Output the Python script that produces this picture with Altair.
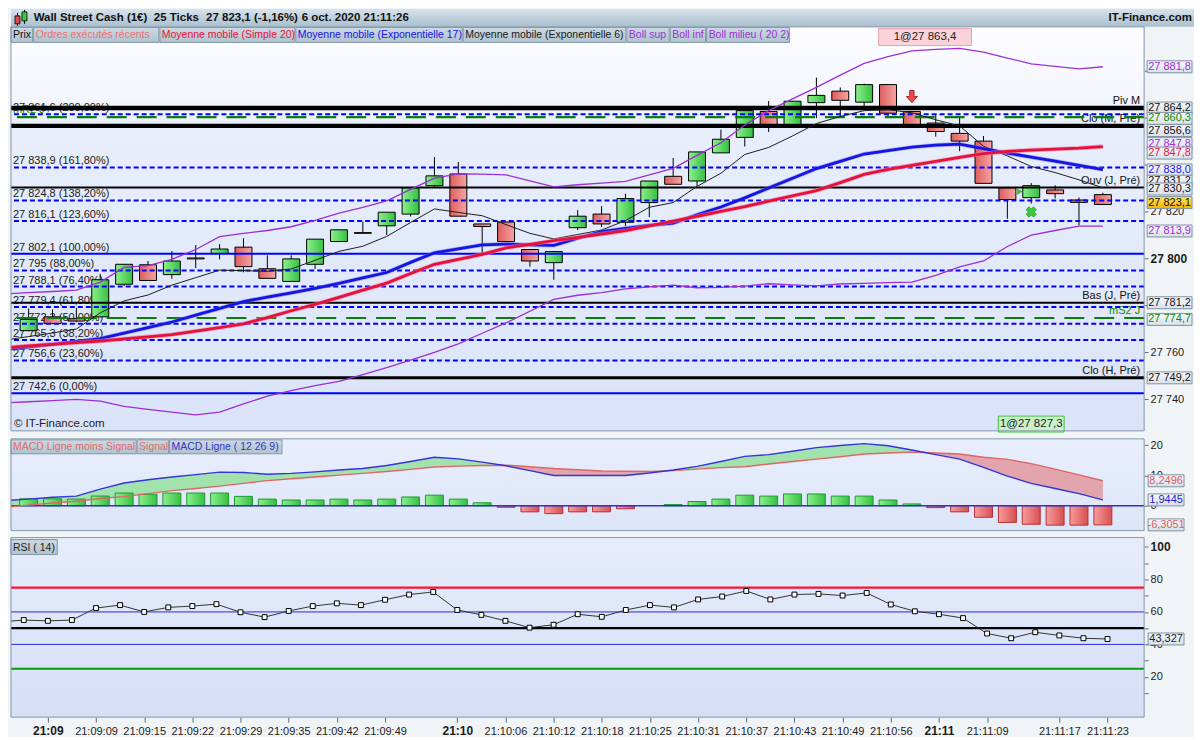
import altair as alt
import pandas as pd

FONT = "Liberation Sans"
BG = "#f1f4f7"

# ===================== DATA =====================
candle_index = list(range(46))
opens = [27769.3, 27775.2, 27774.4, 27775.2, 27789.1, 27797.4, 27793.2, 27800.3, 27802.2, 27804.9,
         27795.7, 27790.3, 27797.6, 27807.3, 27811.1, 27814.0, 27819.0, 27831.1, 27836.1, 27814.8,
         27815.6, 27803.9, 27798.3, 27813.2, 27819.0, 27815.5, 27823.9, 27835.1, 27833.1, 27845.1,
         27851.7, 27862.7, 27856.8, 27866.5, 27871.4, 27866.7, 27874.2, 27862.7, 27857.8, 27853.4,
         27850.1, 27830.2, 27826.0, 27829.3, 27825.0, 27827.3]
highs = [27778.8, 27778.4, 27779.0, 27793.5, 27797.6, 27799.0, 27803.2, 27805.8, 27806.2, 27808.7,
         27801.4, 27801.4, 27808.3, 27812.3, 27815.8, 27819.8, 27830.2, 27843.3, 27841.2, 27814.8,
         27815.6, 27803.9, 27803.0, 27820.7, 27822.4, 27827.7, 27833.1, 27842.9, 27845.5, 27855.0,
         27864.5, 27867.2, 27867.1, 27877.2, 27873.0, 27874.6, 27874.2, 27862.7, 27861.3, 27860.6,
         27852.3, 27830.2, 27832.2, 27831.3, 27826.1, 27828.1]
lows = [27769.0, 27772.3, 27773.0, 27775.2, 27788.3, 27790.7, 27791.4, 27796.0, 27799.7, 27794.2,
        27791.6, 27790.3, 27795.6, 27807.3, 27810.8, 27810.1, 27818.0, 27830.5, 27818.1, 27801.1,
        27807.3, 27796.6, 27791.0, 27812.2, 27813.5, 27813.9, 27817.7, 27831.7, 27831.0, 27845.1,
        27847.8, 27854.0, 27856.8, 27859.9, 27860.5, 27863.8, 27860.5, 27857.1, 27852.0, 27845.8,
        27832.1, 27817.0, 27823.5, 27825.7, 27814.2, 27822.9]
closes = [27774.1, 27772.3, 27773.4, 27791.0, 27797.6, 27790.7, 27799.0, 27799.9, 27804.1, 27796.6,
          27791.6, 27799.9, 27808.3, 27812.3, 27810.8, 27819.8, 27830.2, 27835.3, 27818.1, 27813.7,
          27807.3, 27799.0, 27803.0, 27818.1, 27814.8, 27825.6, 27833.1, 27831.7, 27845.5, 27850.9,
          27863.1, 27856.8, 27867.1, 27869.6, 27867.5, 27874.2, 27862.0, 27857.1, 27854.2, 27850.1,
          27832.1, 27825.2, 27831.1, 27827.7, 27824.0, 27823.1]

# indicator lines: first value = left edge of the plot (index -1, clipped)
line_index = list(range(-1, 46))
sma20 = [27762.0, 27762.8, 27763.5, 27764.2, 27764.9, 27765.8, 27766.7, 27767.6, 27769.1, 27770.6,
         27772.2, 27774.9, 27777.8, 27780.5, 27783.5, 27786.6, 27789.6, 27793.7, 27797.6, 27799.7,
         27801.8, 27804.6, 27806.1, 27807.7, 27809.1, 27810.5, 27811.9, 27814.0, 27816.0, 27818.0,
         27820.2, 27822.2, 27824.5, 27826.8, 27829.0, 27832.4, 27835.9, 27838.1, 27839.8, 27841.5,
         27843.2, 27844.8, 27845.7, 27846.3, 27846.7, 27847.1, 27847.8]
ema17 = [27761.3, 27762.4, 27763.5, 27764.7, 27765.9, 27768.3, 27770.6, 27773.0, 27775.9, 27778.8,
         27781.7, 27783.6, 27785.4, 27787.3, 27789.5, 27791.8, 27794.1, 27798.4, 27802.5, 27804.2,
         27805.9, 27806.2, 27805.9, 27805.7, 27808.7, 27811.5, 27812.9, 27814.2, 27815.1, 27818.7,
         27822.0, 27825.9, 27830.1, 27834.3, 27838.4, 27841.5, 27844.6, 27846.1, 27847.5, 27848.4,
         27848.8, 27846.9, 27845.0, 27843.3, 27841.6, 27839.8, 27838.0]
ema6 = [27765.3, 27766.8, 27768.3, 27770.0, 27776.9, 27782.0, 27784.5, 27788.7, 27791.9, 27795.1,
        27794.9, 27794.6, 27795.6, 27799.3, 27803.1, 27805.3, 27809.5, 27815.4, 27821.2, 27819.7,
        27818.3, 27814.5, 27810.8, 27808.4, 27810.3, 27812.2, 27816.2, 27821.9, 27823.9, 27830.8,
        27836.4, 27844.4, 27847.4, 27852.3, 27857.6, 27860.6, 27863.1, 27863.5, 27862.2, 27859.2,
        27856.6, 27847.9, 27843.8, 27839.3, 27836.7, 27833.6, 27830.2]
boll_sup = [27785.0, 27785.5, 27786.0, 27786.6, 27790.0, 27796.3, 27797.0, 27799.7, 27803.9, 27809.4,
            27810.8, 27812.0, 27813.6, 27816.3, 27819.4, 27821.9, 27824.6, 27829.5, 27834.3, 27836.1,
            27836.0, 27835.7, 27833.2, 27830.6, 27831.5, 27832.2, 27832.9, 27835.7, 27838.5, 27844.0,
            27849.4, 27857.0, 27863.1, 27868.1, 27873.0, 27878.2, 27883.2, 27886.1, 27888.6, 27889.2,
            27889.6, 27888.0, 27885.5, 27883.0, 27882.0, 27880.9, 27881.8]
boll_inf = [27738.5, 27739.0, 27739.5, 27740.0, 27739.3, 27737.0, 27735.8, 27734.6, 27733.4, 27734.6,
            27738.1, 27741.4, 27743.7, 27745.9, 27747.7, 27750.6, 27753.6, 27756.7, 27760.1, 27763.7,
            27768.2, 27772.6, 27777.6, 27782.6, 27784.4, 27785.5, 27787.1, 27788.0, 27788.7, 27787.6,
            27787.8, 27788.3, 27789.3, 27788.8, 27788.4, 27789.2, 27789.5, 27789.8, 27790.0, 27792.9,
            27796.5, 27799.0, 27805.2, 27810.0, 27812.0, 27813.9, 27813.9]

macd_line = [1.7, 2.2, 2.8, 3.2, 5.5, 7.5, 8.6, 9.5, 10.3, 11.1, 11.0, 10.4, 10.7, 11.2, 11.8, 12.3,
             13.3, 14.6, 16.0, 15.5, 14.4, 13.2, 11.6, 10.0, 10.0, 10.0, 10.0, 10.8, 11.8, 13.0, 14.6,
             16.3, 16.9, 18.0, 19.2, 19.9, 20.5, 19.8, 18.4, 16.9, 15.4, 12.7, 9.8, 7.4, 5.7, 4.0, 1.9445]
macd_signal = [-0.5, 0.2, 0.9, 1.5, 2.4, 3.0, 4.0, 5.0, 5.7, 6.5, 7.4, 8.3, 8.9, 9.5, 10.1, 10.7,
               11.3, 12.0, 12.8, 13.1, 13.3, 13.4, 12.9, 12.3, 11.9, 11.5, 11.4, 11.3, 11.6, 12.1, 12.6,
               12.9, 13.8, 14.6, 15.4, 16.2, 17.1, 17.4, 17.7, 17.4, 17.1, 16.0, 15.3, 13.9, 12.1, 10.2, 8.2496]
macd_hist = [2.3, 2.3, 2.2, 3.2, 4.2, 3.8, 4.2, 4.2, 4.2, 3.1, 2.2, 1.9, 1.9, 2.2, 1.9, 2.2, 2.9, 3.5,
             2.2, 1.0, -0.5, -2.0, -2.6, -2.0, -2.0, -1.0, 0.0, 0.4, 1.4, 2.2, 3.5, 3.2, 3.9, 3.9, 3.2,
             3.2, 1.9, 0.6, -0.6, -2.0, -3.8, -5.5, -6.1, -6.4, -6.4, -6.3051]
rsi14 = [53.8, 55.0, 54.5, 55.0, 62.4, 64.2, 60.0, 62.8, 63.6, 64.8, 59.8, 56.8, 60.6, 63.6, 65.3,
         64.2, 67.5, 70.7, 72.3, 61.2, 58.2, 54.5, 50.3, 52.1, 58.6, 57.0, 61.2, 64.2, 62.8, 67.7,
         69.5, 72.9, 67.7, 70.7, 71.1, 70.1, 71.7, 64.6, 60.4, 58.6, 56.2, 46.7, 43.8, 47.5, 45.5,
         43.8, 43.327]

fib_prices = [27861.6, 27838.9, 27824.8, 27816.1, 27802.1, 27795.0, 27788.1, 27779.4, 27772.3,
              27765.3, 27756.6, 27742.6]
fib_labels = ["27 861,6 (200,00%)", "27 838,9 (161,80%)", "27 824,8 (138,20%)", "27 816,1 (123,60%)",
              "27 802,1 (100,00%)", "27 795 (88,00%)", "27 788,1 (76,40%)", "27 779,4 (61,80%)",
              "27 772,3 (50,00%)", "27 765,3 (38,20%)", "27 756,6 (23,60%)", "27 742,6 (0,00%)"]
fib_solid = [False, False, False, False, True, False, False, False, False, False, False, True]

level_prices = [27864.2, 27856.6, 27830.3, 27781.2, 27749.2]
level_names = ["Piv M", "Clo (M, Pré)", "Ouv (J, Pré)", "Bas (J, Pré)", "Clo (H, Pré)"]
pivot_prices = [27860.3, 27774.7]
pivot_names = ["mR2 J", "mS2 J"]

price_ticks = [27740, 27760, 27780, 27800, 27820, 27840, 27860, 27880]
price_tick_shown = [27740, 27760, 27800, 27820]
price_box_text = ["27 881,8", "27 864,2", "27 860,3", "27 856,6", "27 847,8", "27 847,8", "27 838,0",
                  "27 831,2", "27 830,3", "27 823,1", "27 813,9", "27 781,2", "27 774,7", "27 749,2"]
price_box_at = [27881.8, 27864.2, 27859.8, 27854.6, 27849.0, 27845.0, 27837.8,
                27833.0, 27829.7, 27823.9, 27811.8, 27781.2, 27774.1, 27749.2]
macd_box_text = ["8,2496", "1,9445", "-6,3051"]
macd_box_at = [8.2496, 1.9445, -6.3051]
rsi_box_text = ["43,327"]
rsi_box_at = [43.327]
rsi_levels = [75, 60, 50, 40, 25]

time_tick_index = [1, 3, 5, 7, 9, 11, 13, 15, 18, 20, 22, 24, 26, 28, 30, 32, 34, 36, 38, 40, 43, 45]
time_tick_labels = ["21:09", "21:09:09", "21:09:15", "21:09:22", "21:09:29", "21:09:35", "21:09:42",
                    "21:09:49", "21:10", "21:10:06", "21:10:12", "21:10:18", "21:10:25", "21:10:31",
                    "21:10:37", "21:10:43", "21:10:49", "21:10:56", "21:11", "21:11:09", "21:11:17",
                    "21:11:23"]

sell_arrow = {"i": [37], "p": [27869.1]}
buy_triangle = {"i": [41.52], "p": [27828.6]}
buy_cross = {"i": [42], "p": [27819.9]}
trade_labels = ["1@27 863,4", "1@27 827,3"]
trade_index = [37.55, 42.0]

header_items = ["Wall Street Cash (1€)", "25 Ticks", "27 823,1 (-1,16%)", "6 oct. 2020 21:11:26"]
legend_price = ["Prix", "Ordres exécutés récents", "Moyenne mobile (Simple 20)",
                "Moyenne mobile (Exponentielle 17)", "Moyenne mobile (Exponentielle 6)",
                "Boll sup", "Boll inf", "Boll milieu ( 20 2)"]
legend_macd = ["MACD Ligne moins Signal", "Signal", "MACD Ligne ( 12 26 9)"]
legend_rsi = ["RSI ( 14)"]

# ===================== STYLE / LAYOUT =====================
W = 1136
HEAD = 18
HP = 423
HM = 92
HR = 180
SX = W / 1150.0
SY = (HP - HEAD) / 415.0


def rx(v):
    return round(v * SX, 1)


def ry(v):
    return round(HEAD + (v - 18) * SY, 1)


PURPLE = "#9c2fd6"
level_width = {"Piv M": 4.5, "Clo (M, Pré)": 4.5, "Ouv (J, Pré)": 2, "Bas (J, Pré)": 2, "Clo (H, Pré)": 3}
pivot_text_x = {"mR2 J": "left", "mS2 J": "right"}
header_x = [23, 145, 198, 295]
legend_price_x = [(0, 22), (23, 150), (151, 288), (289, 458), (459, 624), (625, 668), (669, 705), (706, 790)]
legend_price_col = ["#111111", "#e87474", "#e8123e", "#1616e6", "#1a1a1a", PURPLE, PURPLE, PURPLE]
legend_macd_x = [(0, 127), (128, 160), (161, 275)]
legend_macd_col = ["#e86a6a", "#e86a6a", "#3434cc"]
price_box_col = [PURPLE, "#111", "#0a8a0a", "#111", PURPLE, "#e8123e", "#1a1ae6",
                 "#111", "#111", "#111", PURPLE, "#111", "#0a8a0a", "#111"]
price_box_gold = [False] * 9 + [True] + [False] * 4
macd_box_col = ["#e05a5a", "#2424d8", "#e05a5a"]
rsi_level_col = ["#ff1030", "#2a2ae0", "#000000", "#2a2ae0", "#0a9a0a"]
rsi_level_w = [2.2, 1, 2.2, 1, 2.2]

ONE = pd.DataFrame({"k": [0]})


def vgrad(stops):
    return {"gradient": "linear", "x1": 0, "y1": 0, "x2": 0, "y2": 1,
            "stops": [{"offset": o, "color": c} for o, c in stops]}


def hgrad(c0, c1):
    return {"gradient": "linear", "x1": 0, "y1": 0, "x2": 1, "y2": 0,
            "stops": [{"offset": 0, "color": c0}, {"offset": 1, "color": c1}]}


BOX_FILL = vgrad([(0, "#f6f8fb"), (1, "#d8e0e9")])
GOLD_FILL = vgrad([(0, "#ffe466"), (1, "#f2b400")])
LEG_FILL = vgrad([(0, "#cbd9e2"), (1, "#b0c3cf")])
GREEN_BODY = hgrad("#8cf08c", "#36c042")
RED_BODY = hgrad("#de5e5e", "#f6a4a4")
RED_BAR = hgrad("#f89c9c", "#d65050")


def vrect(x0, x1, y0, y1, **mk):
    return alt.Chart(ONE).mark_rect(**mk).encode(
        x=alt.value(x0), x2=alt.value(x1), y=alt.value(y0), y2=alt.value(y1))


def vtext(x, y, t, **mk):
    return alt.Chart(pd.DataFrame({"t": [t]})).mark_text(font=FONT, baseline="middle", **mk).encode(
        x=alt.value(x), y=alt.value(y), text="t:N")


def cond(test, a, b):
    return {"condition": {"test": test, "value": a}, "value": b}


def box_path(w, h):
    r = h / w
    return f"M-1,-{r:.4f}L1,-{r:.4f}L1,{r:.4f}L-1,{r:.4f}Z"


xsc = alt.Scale(domain=[-0.53, 46.52], nice=False, zero=False)
PBOT, PTOP = 27726.6, 27898.8
ppx = (HP - HEAD) / (PTOP - PBOT)
psc = alt.Scale(domain=[PBOT, PTOP + HEAD / ppx], nice=False, zero=False)
msc = alt.Scale(domain=[-8.2, 22.1], nice=False, zero=False)
rsc = alt.Scale(domain=[-4.8, 105.8], nice=False, zero=False)

AX = dict(title=None, grid=False, domain=False, tickColor="#5b6b7b", labelFont=FONT,
          labelColor="#1b1b1b", labelPadding=2)
shown_test = " || ".join(f"datum.value == {v}" for v in price_tick_shown)
p_axis = alt.Axis(orient="right", values=price_ticks, tickSize=4,
                  labelExpr=f"({shown_test}) ? replace(format(datum.value, ','), ',', ' ') : ''",
                  labelFontSize=cond("datum.value == 27800", 12, 11),
                  labelFontWeight=cond("datum.value == 27800", "bold", "normal"), **AX)
m_axis = alt.Axis(orient="right", values=[0, 10, 20], tickSize=4, labelFontSize=11, **AX)
r_axis = alt.Axis(orient="right", values=[10, 20, 30, 40, 50, 60, 70, 80, 90, 100], tickSize=4,
                  labelExpr="datum.value % 20 == 0 ? datum.label : ''",
                  labelFontSize=cond("datum.value == 100", 12, 11),
                  labelFontWeight=cond("datum.value == 100", "bold", "normal"), **AX)

lab_expr = "''"
for ti, tl in reversed(list(zip(time_tick_index, time_tick_labels))):
    lab_expr = f"datum.value == {ti} ? '{tl}' : ({lab_expr})"
bold_test = " || ".join(f"datum.value == {ti}" for ti, tl in zip(time_tick_index, time_tick_labels)
                        if len(tl) == 5)
x_axis = alt.Axis(values=time_tick_index, labelExpr=lab_expr, title=None, grid=False, domain=False,
                  tickSize=5, tickColor="#5b6b7b", labelFont=FONT, labelColor="#1b1b1b",
                  labelFontSize=cond(bold_test, 12, 11), labelFontWeight=cond(bold_test, "bold", "normal"),
                  labelPadding=3, labelOverlap=False, labelFlush=False)


def PX(f):
    return alt.X(f, type="quantitative", scale=xsc, axis=None)


def RX(f):
    return alt.X(f, type="quantitative", scale=xsc, axis=x_axis)


def PY(f):
    return alt.Y(f, type="quantitative", scale=psc, axis=p_axis)


def MY(f):
    return alt.Y(f, type="quantitative", scale=msc, axis=m_axis)


def RY(f):
    return alt.Y(f, type="quantitative", scale=rsc, axis=r_axis)


def value_boxes(texts, ats, cols, golds, yfn, width, x_left):
    out = []
    path = box_path(width, 12)
    cx = x_left + width / 2
    for t, a, c, g in zip(texts, ats, cols, golds):
        d = pd.DataFrame({"v": [a], "t": [t]})
        out.append(alt.Chart(d).mark_point(shape=path, size=width * width, filled=True,
                                           fill=GOLD_FILL if g else BOX_FILL, stroke="#7d91a3",
                                           strokeWidth=1, opacity=1).encode(x=alt.value(cx), y=yfn("v")))
        out.append(alt.Chart(d).mark_text(font=FONT, fontSize=11, color=c, align="center",
                                          baseline="middle").encode(x=alt.value(cx), y=yfn("v"), text="t:N"))
    return out


def legend_boxes(items, xs, cols, y0, y1):
    out = []
    for t, (a, b), c in zip(items, xs, cols):
        out.append(vrect(rx(a), rx(b), y0, y1, fill=LEG_FILL, stroke="#8597a6", strokeWidth=1))
        out.append(vtext(rx(a) + 2, (y0 + y1) / 2 + 0.5, t, fontSize=10.5, color=c, align="left"))
    return out


# ===================== PRICE PANEL =====================
cd = pd.DataFrame({"i": candle_index, "o": opens, "h": highs, "l": lows, "c": closes})
ld = pd.DataFrame({"i": line_index, "sma": sma20, "e17": ema17, "e6": ema6, "bs": boll_sup, "bi": boll_inf})
fd = pd.DataFrame({"p": fib_prices, "lab": fib_labels, "solid": fib_solid})
lv = pd.DataFrame({"p": level_prices, "name": level_names,
                   "w": [level_width[n] for n in level_names]})
pv = pd.DataFrame({"p": pivot_prices, "name": pivot_names,
                   "side": [pivot_text_x[n] for n in pivot_names]})

P = []
P.append(vrect(0, W, HEAD, HP, fill=vgrad([(0, "#fdfdff"), (0.17, "#f4f6fd"), (0.25, "#e8eefb"),
                                             (1, "#dae3f8")])))
# level labels (drawn under candles and lines, as in the original)
P.append(alt.Chart(fd).mark_text(font=FONT, fontSize=11, color="#1a1a1a", align="left",
                                 baseline="bottom", dy=-1).encode(x=alt.value(2), y=PY("p"), text="lab:N"))
P.append(alt.Chart(pv).transform_filter("datum.side == 'left'").mark_text(
    font=FONT, fontSize=11, color="#0b8a0b", align="left", baseline="bottom", dy=-2).encode(
    x=alt.value(2), y=PY("p"), text="name:N"))
P.append(alt.Chart(pv).transform_filter("datum.side == 'right'").mark_text(
    font=FONT, fontSize=11, color="#0b8a0b", align="right", baseline="bottom", dy=-2).encode(
    x=alt.value(W - 4), y=PY("p"), text="name:N"))
P.append(alt.Chart(lv).mark_text(font=FONT, fontSize=11, color="#111", align="right",
                                 baseline="bottom", dy=-2).encode(x=alt.value(W - 4), y=PY("p"), text="name:N"))
# candles
P.append(alt.Chart(cd).mark_rule(color="#000", strokeWidth=1).encode(x=PX("i"), y=PY("l"), y2="h"))
P.append(alt.Chart(cd).transform_filter("datum.c >= datum.o").mark_bar(
    size=17, fill=GREEN_BODY, stroke="#000", strokeWidth=1, opacity=1).encode(x=PX("i"), y=PY("o"), y2="c"))
P.append(alt.Chart(cd).transform_filter("datum.c < datum.o").mark_bar(
    size=17, fill=RED_BODY, stroke="#000", strokeWidth=1, opacity=1).encode(x=PX("i"), y=PY("o"), y2="c"))
# horizontal levels
P.append(alt.Chart(fd).transform_filter("!datum.solid").mark_rule(
    color="#0000ff", strokeWidth=2, strokeDash=[5, 3]).encode(y=PY("p")))
P.append(alt.Chart(fd).transform_filter("datum.solid").mark_rule(
    color="#0000ff", strokeWidth=2).encode(y=PY("p")))
P.append(alt.Chart(pv).mark_rule(color="#0b7d0b", strokeWidth=2.2, strokeDash=[20, 10]).encode(y=PY("p")))
P.append(alt.Chart(lv).mark_rule(color="#000").encode(
    y=PY("p"), strokeWidth=alt.StrokeWidth("w:Q", scale=None)))
# indicator lines
P.append(alt.Chart(ld).mark_line(color=PURPLE, strokeWidth=1.3, clip=True).encode(x=PX("i"), y=PY("bs")))
P.append(alt.Chart(ld).mark_line(color=PURPLE, strokeWidth=1.3, clip=True).encode(x=PX("i"), y=PY("bi")))
P.append(alt.Chart(ld).mark_line(color="#1e1e1e", strokeWidth=1, clip=True).encode(x=PX("i"), y=PY("e6")))
P.append(alt.Chart(ld).mark_line(color="#7070f0", strokeWidth=4.2, opacity=0.5, clip=True).encode(
    x=PX("i"), y=PY("e17")))
P.append(alt.Chart(ld).mark_line(color="#1414e6", strokeWidth=2.8, clip=True).encode(x=PX("i"), y=PY("e17")))
P.append(alt.Chart(ld).mark_line(color="#f07aa0", strokeWidth=4.4, opacity=0.6, clip=True).encode(
    x=PX("i"), y=PY("sma")))
P.append(alt.Chart(ld).mark_line(color="#e8103a", strokeWidth=2.8, clip=True).encode(x=PX("i"), y=PY("sma")))
# trade markers
P.append(alt.Chart(pd.DataFrame(sell_arrow)).mark_point(
    shape="M-0.35,-1L0.35,-1L0.35,0L0.9,0L0,1L-0.9,0L-0.35,0Z", size=150, filled=True,
    fill="#ea4b4b", stroke="#b22222", strokeWidth=1, opacity=1).encode(x=PX("i"), y=PY("p")))
P.append(alt.Chart(pd.DataFrame(buy_triangle)).mark_point(
    shape="triangle-right", size=45, filled=True, fill="#33c433", opacity=1).encode(x=PX("i"), y=PY("p")))
P.append(alt.Chart(pd.DataFrame(buy_cross)).mark_point(
    shape="cross", angle=45, size=110, filled=True, fill="#3cc83c", stroke="#1a8a1a", strokeWidth=0.6,
    opacity=1).encode(x=PX("i"), y=PY("p")))
# trade boxes
td0 = pd.DataFrame({"i": [trade_index[0]], "t": [trade_labels[0]]})
td1 = pd.DataFrame({"i": [trade_index[1]], "t": [trade_labels[1]]})
P.append(alt.Chart(td0).mark_point(shape=box_path(93, 17), size=93 * 93, filled=True, fill="#f9d3d9",
                                   stroke="#e8a3ad", strokeWidth=1, opacity=1).encode(
    x=PX("i"), y=alt.value(ry(28.5))))
P.append(alt.Chart(td0).mark_text(font=FONT, fontSize=11.5, color="#222").encode(
    x=PX("i"), y=alt.value(ry(28.5)), text="t:N"))
P.append(alt.Chart(td1).mark_point(shape=box_path(66, 16), size=66 * 66, filled=True, fill="#c9f1c9",
                                   stroke="#45c045", strokeWidth=1, opacity=1).encode(
    x=PX("i"), y=alt.value(ry(426))))
P.append(alt.Chart(td1).mark_text(font=FONT, fontSize=11.5, color="#222").encode(
    x=PX("i"), y=alt.value(ry(426)), text="t:N"))
P.append(vtext(3, ry(426), "© IT-Finance.com", fontSize=11.5, color="#222", align="left"))
# legend row
P += legend_boxes(legend_price, legend_price_x, legend_price_col, ry(18.5), ry(34))
# header
P.append(vrect(0, W + 50, 0, HEAD, fill=vgrad([(0, "#d6e3ec"), (1, "#a9bfcd")])))
P.append(alt.Chart(ONE).mark_rule(color="#000", strokeWidth=1).encode(
    x=alt.value(6.5), y=alt.value(4), y2=alt.value(17)))
P.append(vrect(4, 9, 7, 15, fill="#e04a4a", stroke="#000", strokeWidth=0.8))
P.append(alt.Chart(ONE).mark_rule(color="#000", strokeWidth=1).encode(
    x=alt.value(13.5), y=alt.value(1), y2=alt.value(15)))
P.append(vrect(11, 16, 3, 12, fill="#3cc83c", stroke="#000", strokeWidth=0.8))
for hx, ht in zip(header_x, header_items):
    P.append(vtext(rx(hx), 9.5, ht, fontSize=11.5, fontWeight="bold", color="#111", align="left"))
P.append(vtext(W + 48, 9.5, "IT-Finance.com", fontSize=11.5, fontWeight="bold", color="#111", align="right"))
# border + price boxes
P.append(vrect(0, W, HEAD, HP, fillOpacity=0, stroke="#8496a8", strokeWidth=1))
P += value_boxes(price_box_text, price_box_at, price_box_col, price_box_gold, PY, 45, W + 3)
price = alt.layer(*P).properties(width=W, height=HP)

# ===================== MACD PANEL =====================
md = pd.DataFrame({"i": line_index, "m": macd_line, "s": macd_signal})
hd = pd.DataFrame({"i": candle_index, "h": macd_hist, "z": [0] * len(candle_index)})
M = []
M.append(vrect(0, W, 0, HM, fill=vgrad([(0, "#e9eefc"), (1, "#dce5f8")])))
M.append(alt.Chart(md).transform_calculate(top="max(datum.m, datum.s)").mark_area(
    color="#a2e3ad", opacity=1, clip=True).encode(x=PX("i"), y=MY("s"), y2="top"))
M.append(alt.Chart(md).transform_calculate(top="max(datum.m, datum.s)").mark_area(
    color="#e2a5ae", opacity=1, clip=True).encode(x=PX("i"), y=MY("m"), y2="top"))
M.append(alt.Chart(hd).transform_filter("datum.h > 0").mark_bar(
    size=18, fill=GREEN_BODY, stroke="#1f9a2f", strokeWidth=1, opacity=1).encode(
    x=PX("i"), y=MY("h"), y2="z"))
M.append(alt.Chart(hd).transform_filter("datum.h < 0").mark_bar(
    size=18, fill=RED_BAR, stroke="#b83030", strokeWidth=1, opacity=1).encode(
    x=PX("i"), y=MY("h"), y2="z"))
M.append(alt.Chart(pd.DataFrame({"z": [0]})).mark_rule(color="#2e2ee0", strokeWidth=1.5).encode(y=MY("z")))
M.append(alt.Chart(md).mark_line(color="#e06666", strokeWidth=1.4, clip=True).encode(x=PX("i"), y=MY("s")))
M.append(alt.Chart(md).mark_line(color="#3434d8", strokeWidth=1.4, clip=True).encode(x=PX("i"), y=MY("m")))
M += legend_boxes(legend_macd, legend_macd_x, legend_macd_col, 1, 15)
M.append(vrect(0, W, 0, HM, fillOpacity=0, stroke="#8496a8", strokeWidth=1))
M += value_boxes(macd_box_text, macd_box_at, macd_box_col, [False] * 3, MY, 36, W + 4)
macd = alt.layer(*M).properties(width=W, height=HM)

# ===================== RSI PANEL =====================
rd = pd.DataFrame({"i": line_index, "r": rsi14})
rl = pd.DataFrame({"v": rsi_levels, "c": rsi_level_col, "w": rsi_level_w})
R = []
R.append(vrect(0, W, 0, HR, fill=vgrad([(0, "#e6ecfb"), (1, "#d5dff6")])))
R.append(alt.Chart(rl).mark_rule().encode(
    y=RY("v"), color=alt.Color("c:N", scale=None), strokeWidth=alt.StrokeWidth("w:Q", scale=None)))
R.append(alt.Chart(rd).mark_line(color="#333", strokeWidth=1, clip=True).encode(x=RX("i"), y=RY("r")))
R.append(alt.Chart(rd).transform_filter("datum.i >= 0").mark_point(
    shape="square", size=24, filled=True, fill="#ffffff", stroke="#000", strokeWidth=1, opacity=1).encode(
    x=RX("i"), y=RY("r")))
R += legend_boxes(legend_rsi, [(0, 47)], ["#222"], 2, 17)
R.append(vrect(0, W, 0, HR, fillOpacity=0, stroke="#8496a8", strokeWidth=1))
R += value_boxes(rsi_box_text, rsi_box_at, ["#222"], [False], RY, 36, W + 4)
rsi = alt.layer(*R).properties(width=W, height=HR)

chart = alt.vconcat(price, macd, rsi, spacing=3).resolve_scale(
    x="independent", y="independent").properties(padding=0, background=BG).configure_view(stroke=None)

chart.save("out.html", embed_options={"renderer": "svg", "actions": False})
